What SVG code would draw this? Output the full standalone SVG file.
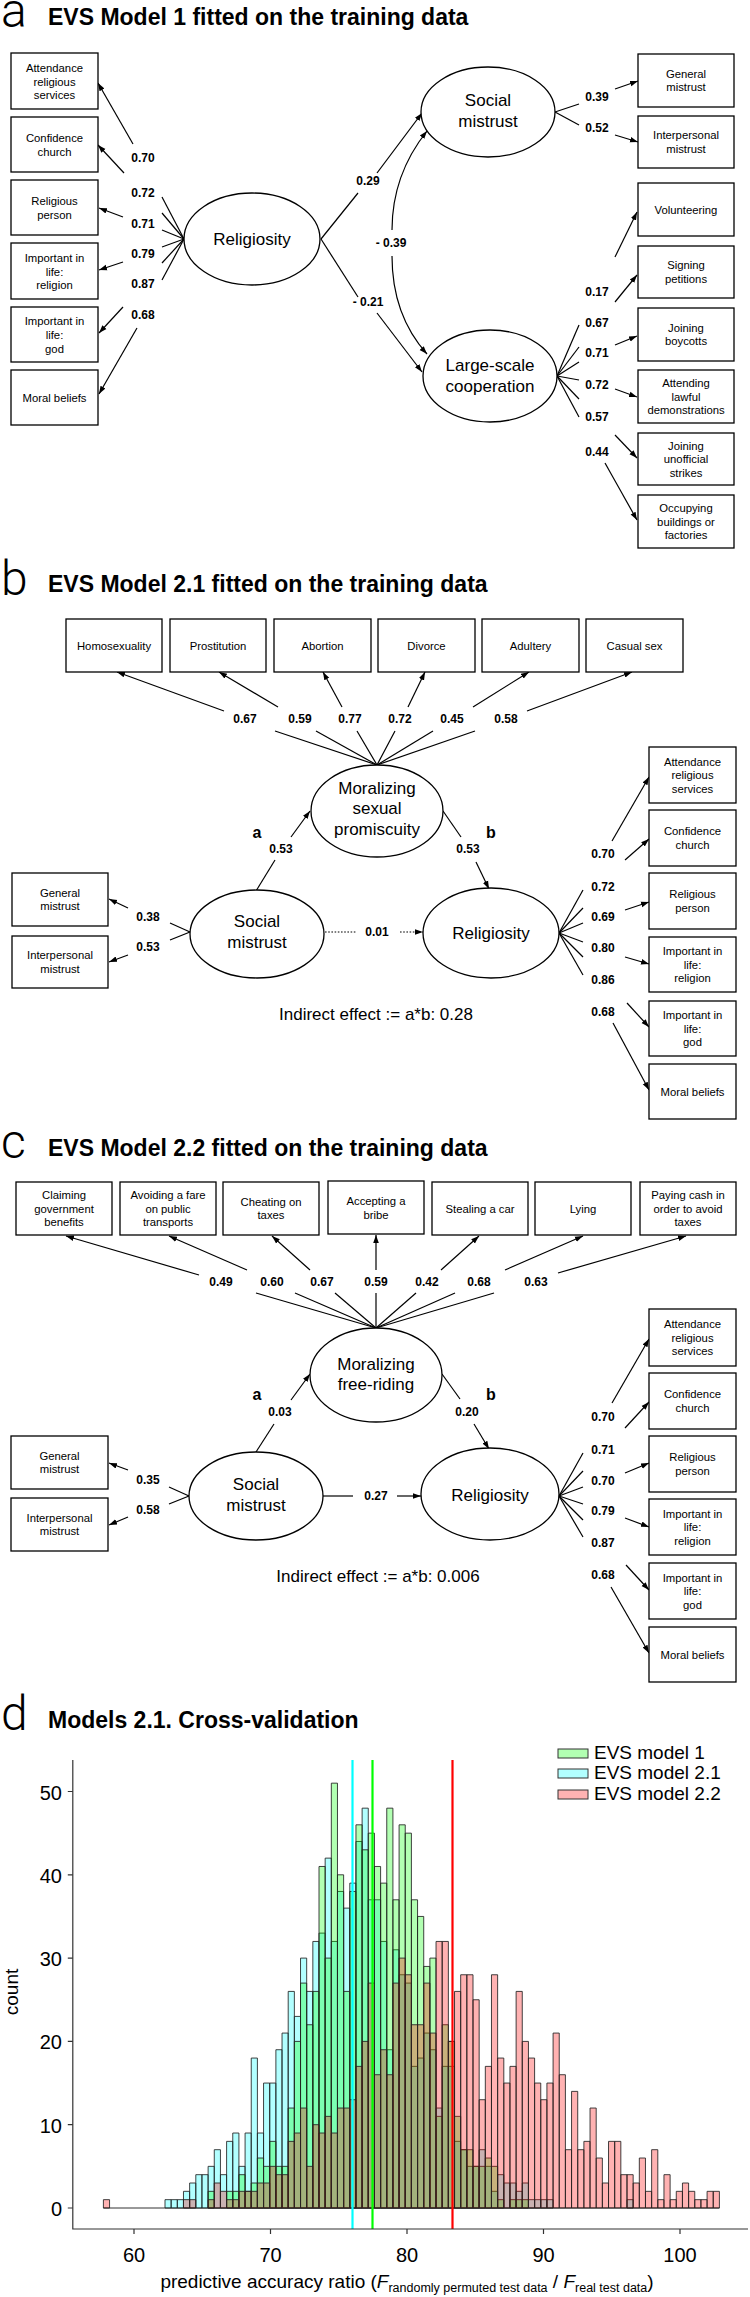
<svg xmlns="http://www.w3.org/2000/svg" width="750" height="2297" viewBox="0 0 750 2297">
<style>
text{font-family:"Liberation Sans",Arial,Helvetica,sans-serif;fill:#000}
.bx rect{fill:#fff;stroke:#000;stroke-width:1.3}
.bt{font-size:11.3px;text-anchor:middle;dominant-baseline:central}
.lv ellipse{fill:#fff;stroke:#000;stroke-width:1.3}
.lt{font-size:17px;text-anchor:middle;dominant-baseline:central}
.el{font-size:12px;font-weight:bold;text-anchor:middle;dominant-baseline:central}
.ab{font-size:16px;font-weight:bold;text-anchor:middle;dominant-baseline:central}
.ttl{font-size:23px;font-weight:bold}
.pl{font-family:Roboto,"Liberation Sans",Arial,sans-serif;font-size:48px;font-weight:300}
.conn line,.conn path{stroke:#000;stroke-width:1.2;fill:none}
.a{marker-end:url(#ah)}
.s{marker-start:url(#ah)}
.dt{stroke-dasharray:1.6 1.6}
.ind{font-size:17px;text-anchor:middle;dominant-baseline:central}
#hist rect{vector-effect:non-scaling-stroke;stroke:#222;stroke-opacity:.85;stroke-width:1}
.hg{fill:#00ff00;fill-opacity:.3}
.hc{fill:#00ffff;fill-opacity:.3}
.hp{fill:#ff0000;fill-opacity:.3}
.ax{stroke:#333;stroke-width:1.2;fill:none}
.tk{font-size:20px}
.lg{font-size:19px}
</style>
<defs>
<marker id="ah" viewBox="0 0 10 10" refX="10" refY="5" markerWidth="8" markerHeight="8" markerUnits="userSpaceOnUse" orient="auto-start-reverse"><path d="M0,1.5 L10,5 L0,8.5 z" fill="#000"/></marker>
</defs>
<rect width="750" height="2297" fill="#fff"/>

<!-- ================= PANEL A ================= -->
<text class="pl" x="1" y="27">a</text>
<text class="ttl" x="48" y="25">EVS Model 1 fitted on the training data</text>

<g class="conn" id="a-connectors">
<line x1="184" y1="239" x2="162" y2="197"/><line x1="184" y1="239" x2="162" y2="213"/><line x1="184" y1="239" x2="162" y2="230"/><line x1="184" y1="239" x2="162" y2="247"/><line x1="184" y1="239" x2="162" y2="263"/><line x1="184" y1="239" x2="162" y2="280"/>
<line class="a" x1="133" y1="144" x2="98" y2="83"/>
<line class="a" x1="124" y1="173" x2="98" y2="145"/>
<line class="a" x1="123" y1="217" x2="99" y2="208"/>
<line class="a" x1="123" y1="262" x2="99" y2="270"/>
<line class="a" x1="123" y1="307" x2="99" y2="333"/>
<line class="a" x1="137" y1="328" x2="99" y2="394"/>
<line x1="321" y1="239" x2="358" y2="193"/><line class="a" x1="377" y1="173" x2="422" y2="113"/>
<line x1="321" y1="239" x2="358" y2="297"/><line class="a" x1="377" y1="313" x2="422" y2="372"/>
<path class="s" d="M427,131 Q392,175 392,230"/><path class="a" d="M392,256 Q392,315 427,354"/>
<line x1="555" y1="112" x2="579" y2="104"/><line class="a" x1="615" y1="89" x2="638" y2="81"/>
<line x1="555" y1="112" x2="579" y2="125"/><line class="a" x1="615" y1="135" x2="638" y2="142"/>
<line x1="557" y1="376" x2="579" y2="325"/><line x1="557" y1="376" x2="579" y2="347"/><line x1="557" y1="376" x2="579" y2="362"/><line x1="557" y1="376" x2="579" y2="380"/><line x1="557" y1="376" x2="579" y2="399"/><line x1="557" y1="376" x2="579" y2="417"/>
<line class="a" x1="615" y1="257" x2="637" y2="212"/>
<line class="a" x1="615" y1="302" x2="637" y2="275"/>
<line class="a" x1="615" y1="345" x2="637" y2="336"/>
<line class="a" x1="615" y1="389" x2="637" y2="397"/>
<line class="a" x1="615" y1="435" x2="637" y2="458"/>
<line class="a" x1="605" y1="463" x2="637" y2="520"/>
</g>
<g id="a-edge-labels">
<text class="el" x="143" y="158">0.70</text><text class="el" x="143" y="193">0.72</text><text class="el" x="143" y="224">0.71</text><text class="el" x="143" y="254">0.79</text><text class="el" x="143" y="284">0.87</text><text class="el" x="143" y="315">0.68</text>
<text class="el" x="368" y="181">0.29</text><text class="el" x="368" y="302">- 0.21</text><text class="el" x="391" y="243">- 0.39</text>
<text class="el" x="597" y="97">0.39</text><text class="el" x="597" y="128">0.52</text>
<text class="el" x="597" y="292">0.17</text><text class="el" x="597" y="323">0.67</text><text class="el" x="597" y="353">0.71</text><text class="el" x="597" y="385">0.72</text><text class="el" x="597" y="417">0.57</text><text class="el" x="597" y="452">0.44</text>
</g>
<g id="a-religiosity" class="lv"><ellipse cx="252" cy="239" rx="68" ry="46"/><text class="lt" x="252" y="239">Religiosity</text></g>
<g id="a-social-mistrust" class="lv"><ellipse cx="488" cy="112" rx="67" ry="45"/><text class="lt" x="488" y="100.5">Social</text><text class="lt" x="488" y="121.5">mistrust</text></g>
<g id="a-large-scale-cooperation" class="lv"><ellipse cx="490" cy="376" rx="67" ry="46"/><text class="lt" x="490" y="365.5">Large-scale</text><text class="lt" x="490" y="386.5">cooperation</text></g>
<g id="a-attendance" class="bx"><rect x="11" y="53" width="87" height="56"/><text class="bt" x="54.5" y="67.9">Attendance</text><text class="bt" x="54.5" y="81.5">religious</text><text class="bt" x="54.5" y="95.1">services</text></g>
<g id="a-confidence" class="bx"><rect x="11" y="117" width="87" height="55"/><text class="bt" x="54.5" y="138.2">Confidence</text><text class="bt" x="54.5" y="151.8">church</text></g>
<g id="a-religious-person" class="bx"><rect x="11" y="180" width="87" height="55"/><text class="bt" x="54.5" y="201.2">Religious</text><text class="bt" x="54.5" y="214.8">person</text></g>
<g id="a-imp-religion" class="bx"><rect x="11" y="243" width="87" height="56"/><text class="bt" x="54.5" y="257.9">Important in</text><text class="bt" x="54.5" y="271.5">life:</text><text class="bt" x="54.5" y="285.1">religion</text></g>
<g id="a-imp-god" class="bx"><rect x="11" y="307" width="87" height="55"/><text class="bt" x="54.5" y="321.4">Important in</text><text class="bt" x="54.5" y="335">life:</text><text class="bt" x="54.5" y="348.6">god</text></g>
<g id="a-moral" class="bx"><rect x="11" y="370" width="87" height="55"/><text class="bt" x="54.5" y="398">Moral beliefs</text></g>
<g id="a-general-mistrust" class="bx"><rect x="638" y="54" width="96" height="53"/><text class="bt" x="686" y="73.7">General</text><text class="bt" x="686" y="87.3">mistrust</text></g>
<g id="a-interpersonal-mistrust" class="bx"><rect x="638" y="116" width="96" height="52"/><text class="bt" x="686" y="135.2">Interpersonal</text><text class="bt" x="686" y="148.8">mistrust</text></g>
<g id="a-volunteering" class="bx"><rect x="638" y="183" width="96" height="53"/><text class="bt" x="686" y="209.5">Volunteering</text></g>
<g id="a-petitions" class="bx"><rect x="638" y="246" width="96" height="52"/><text class="bt" x="686" y="265.2">Signing</text><text class="bt" x="686" y="278.8">petitions</text></g>
<g id="a-boycotts" class="bx"><rect x="638" y="308" width="96" height="53"/><text class="bt" x="686" y="327.7">Joining</text><text class="bt" x="686" y="341.3">boycotts</text></g>
<g id="a-demonstrations" class="bx"><rect x="638" y="370" width="96" height="53"/><text class="bt" x="686" y="383">Attending</text><text class="bt" x="686" y="396.6">lawful</text><text class="bt" x="686" y="410.2">demonstrations</text></g>
<g id="a-strikes" class="bx"><rect x="638" y="433" width="96" height="52"/><text class="bt" x="686" y="445.5">Joining</text><text class="bt" x="686" y="459.1">unofficial</text><text class="bt" x="686" y="472.7">strikes</text></g>
<g id="a-occupying" class="bx"><rect x="638" y="495" width="96" height="53"/><text class="bt" x="686" y="508">Occupying</text><text class="bt" x="686" y="521.6">buildings or</text><text class="bt" x="686" y="535.2">factories</text></g>

<!-- ================= PANEL B ================= -->
<text class="pl" x="1" y="595">b</text>
<text class="ttl" x="48" y="592">EVS Model 2.1 fitted on the training data</text>
<g class="conn" id="b-connectors">
<line x1="377" y1="765" x2="275" y2="731"/><line x1="377" y1="765" x2="316" y2="731"/><line x1="377" y1="765" x2="357" y2="731"/><line x1="377" y1="765" x2="395" y2="731"/><line x1="377" y1="765" x2="433" y2="731"/><line x1="377" y1="765" x2="475" y2="731"/>
<line class="a" x1="224" y1="711" x2="117" y2="672"/>
<line class="a" x1="278" y1="707" x2="219" y2="672"/>
<line class="a" x1="342" y1="707" x2="323" y2="672"/>
<line class="a" x1="408" y1="707" x2="425" y2="672"/>
<line class="a" x1="473" y1="707" x2="529" y2="672"/>
<line class="a" x1="527" y1="711" x2="632" y2="672"/>
<line x1="256" y1="891" x2="275" y2="860"/><line class="a" x1="291" y1="837" x2="310" y2="811"/>
<line x1="443" y1="811" x2="461" y2="837"/><line class="a" x1="476" y1="862" x2="489" y2="889"/>
<line class="dt" x1="325" y1="932" x2="357" y2="932"/><line class="a dt" x1="400" y1="932" x2="423" y2="932"/>
<line x1="190" y1="932" x2="170" y2="923"/><line x1="190" y1="932" x2="170" y2="940"/>
<line class="a" x1="128" y1="908" x2="109" y2="899"/>
<line class="a" x1="128" y1="955" x2="109" y2="962"/>
<line x1="559" y1="933" x2="583" y2="890"/><line x1="559" y1="933" x2="583" y2="908"/><line x1="559" y1="933" x2="583" y2="923"/><line x1="559" y1="933" x2="583" y2="942"/><line x1="559" y1="933" x2="583" y2="957"/><line x1="559" y1="933" x2="583" y2="975"/>
<line class="a" x1="612" y1="841" x2="649" y2="777"/>
<line class="a" x1="625" y1="860" x2="649" y2="839"/>
<line class="a" x1="625" y1="910" x2="649" y2="902"/>
<line class="a" x1="625" y1="957" x2="649" y2="964"/>
<line class="a" x1="627" y1="1003" x2="649" y2="1027"/>
<line class="a" x1="613" y1="1023" x2="649" y2="1090"/>
</g>
<g id="b-edge-labels">
<text class="el" x="245" y="719">0.67</text><text class="el" x="300" y="719">0.59</text><text class="el" x="350" y="719">0.77</text><text class="el" x="400" y="719">0.72</text><text class="el" x="452" y="719">0.45</text><text class="el" x="506" y="719">0.58</text>
<text class="ab" x="257" y="832">a</text><text class="el" x="281" y="849">0.53</text>
<text class="ab" x="491" y="832">b</text><text class="el" x="468" y="849">0.53</text>
<text class="el" x="377" y="932">0.01</text>
<text class="el" x="148" y="917">0.38</text><text class="el" x="148" y="947">0.53</text>
<text class="el" x="603" y="854">0.70</text><text class="el" x="603" y="887">0.72</text><text class="el" x="603" y="917">0.69</text><text class="el" x="603" y="948">0.80</text><text class="el" x="603" y="980">0.86</text><text class="el" x="603" y="1012">0.68</text>
</g>
<g id="b-moralizing" class="lv"><ellipse cx="377" cy="811" rx="66" ry="46"/><text class="lt" x="377" y="788">Moralizing</text><text class="lt" x="377" y="808.5">sexual</text><text class="lt" x="377" y="829">promiscuity</text></g>
<g id="b-social-mistrust" class="lv"><ellipse cx="257" cy="934" rx="67" ry="44"/><text class="lt" x="257" y="921">Social</text><text class="lt" x="257" y="942">mistrust</text></g>
<g id="b-religiosity" class="lv"><ellipse cx="491" cy="933" rx="68" ry="45"/><text class="lt" x="491" y="933">Religiosity</text></g>
<g id="b-homosexuality" class="bx"><rect x="66" y="619" width="96" height="53"/><text class="bt" x="114" y="646">Homosexuality</text></g>
<g id="b-prostitution" class="bx"><rect x="170" y="619" width="96" height="53"/><text class="bt" x="218" y="646">Prostitution</text></g>
<g id="b-abortion" class="bx"><rect x="274" y="619" width="97" height="53"/><text class="bt" x="322.5" y="646">Abortion</text></g>
<g id="b-divorce" class="bx"><rect x="378" y="619" width="97" height="53"/><text class="bt" x="426.5" y="646">Divorce</text></g>
<g id="b-adultery" class="bx"><rect x="482" y="619" width="97" height="53"/><text class="bt" x="530.5" y="646">Adultery</text></g>
<g id="b-casual-sex" class="bx"><rect x="586" y="619" width="97" height="53"/><text class="bt" x="634.5" y="646">Casual sex</text></g>
<g id="b-general-mistrust" class="bx"><rect x="12" y="873" width="96" height="53"/><text class="bt" x="60" y="892.7">General</text><text class="bt" x="60" y="906.3">mistrust</text></g>
<g id="b-interpersonal-mistrust" class="bx"><rect x="12" y="936" width="96" height="52"/><text class="bt" x="60" y="955.2">Interpersonal</text><text class="bt" x="60" y="968.8">mistrust</text></g>
<g id="b-attendance" class="bx"><rect x="649" y="747" width="87" height="56"/><text class="bt" x="692.5" y="761.5">Attendance</text><text class="bt" x="692.5" y="775.1">religious</text><text class="bt" x="692.5" y="788.7">services</text></g>
<g id="b-confidence" class="bx"><rect x="649" y="810" width="87" height="56"/><text class="bt" x="692.5" y="831.2">Confidence</text><text class="bt" x="692.5" y="844.8">church</text></g>
<g id="b-religious-person" class="bx"><rect x="649" y="873" width="87" height="56"/><text class="bt" x="692.5" y="894.2">Religious</text><text class="bt" x="692.5" y="907.8">person</text></g>
<g id="b-imp-religion" class="bx"><rect x="649" y="937" width="87" height="55"/><text class="bt" x="692.5" y="951">Important in</text><text class="bt" x="692.5" y="964.6">life:</text><text class="bt" x="692.5" y="978.2">religion</text></g>
<g id="b-imp-god" class="bx"><rect x="649" y="1001" width="87" height="55"/><text class="bt" x="692.5" y="1015">Important in</text><text class="bt" x="692.5" y="1028.6">life:</text><text class="bt" x="692.5" y="1042.2">god</text></g>
<g id="b-moral" class="bx"><rect x="649" y="1064" width="87" height="55"/><text class="bt" x="692.5" y="1091.5">Moral beliefs</text></g>
<text class="ind" x="376" y="1014">Indirect effect := a*b: 0.28</text>

<!-- ================= PANEL C ================= -->
<text class="pl" x="1" y="1158">c</text>
<text class="ttl" x="48" y="1156">EVS Model 2.2 fitted on the training data</text>
<g class="conn" id="c-connectors">
<line x1="376" y1="1328" x2="256" y2="1293"/><line x1="376" y1="1328" x2="295" y2="1293"/><line x1="376" y1="1328" x2="335" y2="1293"/><line x1="376" y1="1328" x2="376" y2="1293"/><line x1="376" y1="1328" x2="416" y2="1293"/><line x1="376" y1="1328" x2="455" y2="1293"/><line x1="376" y1="1328" x2="494" y2="1293"/>
<line class="a" x1="199" y1="1275" x2="66" y2="1236"/>
<line class="a" x1="247" y1="1270" x2="169" y2="1236"/>
<line class="a" x1="310" y1="1270" x2="272" y2="1236"/>
<line class="a" x1="376" y1="1270" x2="376" y2="1235"/>
<line class="a" x1="441" y1="1270" x2="479" y2="1236"/>
<line class="a" x1="505" y1="1270" x2="583" y2="1236"/>
<line class="a" x1="558" y1="1273" x2="686" y2="1236"/>
<line x1="256" y1="1452" x2="274" y2="1424"/><line class="a" x1="291" y1="1400" x2="310" y2="1374"/>
<line x1="442" y1="1374" x2="460" y2="1399"/><line class="a" x1="474" y1="1424" x2="489" y2="1449"/>
<line x1="323" y1="1496" x2="353" y2="1496"/><line class="a" x1="397" y1="1496" x2="421" y2="1496"/>
<line x1="189" y1="1496" x2="169" y2="1487"/><line x1="189" y1="1496" x2="169" y2="1504"/>
<line class="a" x1="128" y1="1470" x2="109" y2="1463"/>
<line class="a" x1="128" y1="1517" x2="109" y2="1525"/>
<line x1="559" y1="1496" x2="583" y2="1453"/><line x1="559" y1="1496" x2="583" y2="1471"/><line x1="559" y1="1496" x2="583" y2="1487"/><line x1="559" y1="1496" x2="583" y2="1504"/><line x1="559" y1="1496" x2="583" y2="1520"/><line x1="559" y1="1496" x2="583" y2="1537"/>
<line class="a" x1="612" y1="1403" x2="649" y2="1339"/>
<line class="a" x1="625" y1="1428" x2="649" y2="1402"/>
<line class="a" x1="625" y1="1473" x2="649" y2="1463"/>
<line class="a" x1="625" y1="1518" x2="649" y2="1527"/>
<line class="a" x1="626" y1="1565" x2="649" y2="1590"/>
<line class="a" x1="611" y1="1587" x2="649" y2="1653"/>
</g>
<g id="c-edge-labels">
<text class="el" x="221" y="1282">0.49</text><text class="el" x="272" y="1282">0.60</text><text class="el" x="322" y="1282">0.67</text><text class="el" x="376" y="1282">0.59</text><text class="el" x="427" y="1282">0.42</text><text class="el" x="479" y="1282">0.68</text><text class="el" x="536" y="1282">0.63</text>
<text class="ab" x="257" y="1394">a</text><text class="el" x="280" y="1412">0.03</text>
<text class="ab" x="491" y="1394">b</text><text class="el" x="467" y="1412">0.20</text>
<text class="el" x="376" y="1496">0.27</text>
<text class="el" x="148" y="1480">0.35</text><text class="el" x="148" y="1510">0.58</text>
<text class="el" x="603" y="1417">0.70</text><text class="el" x="603" y="1450">0.71</text><text class="el" x="603" y="1481">0.70</text><text class="el" x="603" y="1511">0.79</text><text class="el" x="603" y="1543">0.87</text><text class="el" x="603" y="1575">0.68</text>
</g>
<g id="c-moralizing" class="lv"><ellipse cx="376" cy="1375" rx="66" ry="47"/><text class="lt" x="376" y="1364">Moralizing</text><text class="lt" x="376" y="1384.5">free-riding</text></g>
<g id="c-social-mistrust" class="lv"><ellipse cx="256" cy="1496" rx="67" ry="44"/><text class="lt" x="256" y="1484">Social</text><text class="lt" x="256" y="1505">mistrust</text></g>
<g id="c-religiosity" class="lv"><ellipse cx="490" cy="1494" rx="69" ry="46"/><text class="lt" x="490" y="1495">Religiosity</text></g>
<g id="c-benefits" class="bx"><rect x="16" y="1182" width="96" height="53"/><text class="bt" x="64" y="1195">Claiming</text><text class="bt" x="64" y="1208.6">government</text><text class="bt" x="64" y="1222.2">benefits</text></g>
<g id="c-fare" class="bx"><rect x="120" y="1182" width="96" height="53"/><text class="bt" x="168" y="1195">Avoiding a fare</text><text class="bt" x="168" y="1208.6">on public</text><text class="bt" x="168" y="1222.2">transports</text></g>
<g id="c-taxes" class="bx"><rect x="223" y="1182" width="96" height="53"/><text class="bt" x="271" y="1201.7">Cheating on</text><text class="bt" x="271" y="1215.3">taxes</text></g>
<g id="c-bribe" class="bx"><rect x="328" y="1181" width="96" height="53"/><text class="bt" x="376" y="1201.2">Accepting a</text><text class="bt" x="376" y="1214.8">bribe</text></g>
<g id="c-car" class="bx"><rect x="432" y="1182" width="96" height="53"/><text class="bt" x="480" y="1208.5">Stealing a car</text></g>
<g id="c-lying" class="bx"><rect x="535" y="1182" width="96" height="53"/><text class="bt" x="583" y="1208.5">Lying</text></g>
<g id="c-cash" class="bx"><rect x="640" y="1182" width="96" height="53"/><text class="bt" x="688" y="1195">Paying cash in</text><text class="bt" x="688" y="1208.6">order to avoid</text><text class="bt" x="688" y="1222.2">taxes</text></g>
<g id="c-general-mistrust" class="bx"><rect x="11" y="1436" width="97" height="53"/><text class="bt" x="59.5" y="1455.7">General</text><text class="bt" x="59.5" y="1469.3">mistrust</text></g>
<g id="c-interpersonal-mistrust" class="bx"><rect x="11" y="1498" width="97" height="53"/><text class="bt" x="59.5" y="1517.7">Interpersonal</text><text class="bt" x="59.5" y="1531.3">mistrust</text></g>
<g id="c-attendance" class="bx"><rect x="649" y="1309" width="87" height="57"/><text class="bt" x="692.5" y="1324">Attendance</text><text class="bt" x="692.5" y="1337.6">religious</text><text class="bt" x="692.5" y="1351.2">services</text></g>
<g id="c-confidence" class="bx"><rect x="649" y="1373" width="87" height="56"/><text class="bt" x="692.5" y="1394.2">Confidence</text><text class="bt" x="692.5" y="1407.8">church</text></g>
<g id="c-religious-person" class="bx"><rect x="649" y="1436" width="87" height="56"/><text class="bt" x="692.5" y="1457.2">Religious</text><text class="bt" x="692.5" y="1470.8">person</text></g>
<g id="c-imp-religion" class="bx"><rect x="649" y="1499" width="87" height="56"/><text class="bt" x="692.5" y="1513.5">Important in</text><text class="bt" x="692.5" y="1527.1">life:</text><text class="bt" x="692.5" y="1540.7">religion</text></g>
<g id="c-imp-god" class="bx"><rect x="649" y="1563" width="87" height="56"/><text class="bt" x="692.5" y="1577.5">Important in</text><text class="bt" x="692.5" y="1591.1">life:</text><text class="bt" x="692.5" y="1604.7">god</text></g>
<g id="c-moral" class="bx"><rect x="649" y="1627" width="87" height="55"/><text class="bt" x="692.5" y="1654.5">Moral beliefs</text></g>
<text class="ind" x="378" y="1576">Indirect effect := a*b: 0.006</text>

<!-- ================= PANEL D ================= -->
<text class="pl" x="1" y="1730">d</text>
<text class="ttl" x="48" y="1728">Models 2.1. Cross-validation</text>
<line x1="103.4" y1="2208" x2="719.4" y2="2208" stroke="#333" stroke-width="1"/>
<g id="hist" transform="matrix(1,0,0,-8.33,0,2208)">
<g class="hc">
<rect x="165" width="6.16" height="1"/><rect x="171.16" width="6.16" height="1"/><rect x="177.32" width="6.16" height="1"/><rect x="183.48" width="6.16" height="2"/><rect x="189.64" width="6.16" height="3"/><rect x="195.8" width="6.16" height="4"/><rect x="201.96" width="6.16" height="4"/><rect x="208.12" width="6.16" height="5"/><rect x="214.28" width="6.16" height="7"/><rect x="220.44" width="6.16" height="4"/><rect x="226.6" width="6.16" height="8"/><rect x="232.76" width="6.16" height="9"/><rect x="238.92" width="6.16" height="5"/><rect x="245.08" width="6.16" height="9"/><rect x="251.24" width="6.16" height="18"/><rect x="257.4" width="6.16" height="9"/><rect x="263.56" width="6.16" height="15"/><rect x="269.72" width="6.16" height="15"/><rect x="275.88" width="6.16" height="19"/><rect x="282.04" width="6.16" height="21"/><rect x="288.2" width="6.16" height="26"/><rect x="294.36" width="6.16" height="23"/><rect x="300.52" width="6.16" height="30"/><rect x="306.68" width="6.16" height="26"/><rect x="312.84" width="6.16" height="32"/><rect x="319" width="6.16" height="33"/><rect x="325.16" width="6.16" height="42"/><rect x="331.32" width="6.16" height="32"/><rect x="337.48" width="6.16" height="38"/><rect x="343.64" width="6.16" height="36"/><rect x="349.8" width="6.16" height="39"/><rect x="355.96" width="6.16" height="44"/><rect x="362.12" width="6.16" height="48"/><rect x="368.28" width="6.16" height="37"/><rect x="374.44" width="6.16" height="37"/><rect x="380.6" width="6.16" height="32"/><rect x="386.76" width="6.16" height="19"/><rect x="392.92" width="6.16" height="31"/><rect x="399.08" width="6.16" height="28"/><rect x="405.24" width="6.16" height="27"/><rect x="411.4" width="6.16" height="17"/><rect x="417.56" width="6.16" height="18"/><rect x="423.72" width="6.16" height="21"/><rect x="429.88" width="6.16" height="19"/><rect x="436.04" width="6.16" height="12"/><rect x="442.2" width="6.16" height="17"/><rect x="448.36" width="6.16" height="17"/><rect x="454.52" width="6.16" height="8"/><rect x="460.68" width="6.16" height="7"/><rect x="466.84" width="6.16" height="5"/><rect x="473" width="6.16" height="5"/><rect x="479.16" width="6.16" height="7"/><rect x="485.32" width="6.16" height="5"/><rect x="491.48" width="6.16" height="2"/><rect x="497.64" width="6.16" height="4"/><rect x="503.8" width="6.16" height="3"/><rect x="509.96" width="6.16" height="3"/><rect x="516.12" width="6.16" height="2"/><rect x="522.28" width="6.16" height="3"/><rect x="528.44" width="6.16" height="1"/><rect x="534.6" width="6.16" height="1"/><rect x="540.76" width="6.16" height="1"/><rect x="546.92" width="6.16" height="1"/><rect x="627" width="6.16" height="1"/>
</g>
<g class="hg">
<rect x="208.12" width="6.16" height="2"/><rect x="226.6" width="6.16" height="2"/><rect x="232.76" width="6.16" height="2"/><rect x="238.92" width="6.16" height="4"/><rect x="245.08" width="6.16" height="2"/><rect x="251.24" width="6.16" height="3"/><rect x="257.4" width="6.16" height="6"/><rect x="263.56" width="6.16" height="5"/><rect x="269.72" width="6.16" height="8"/><rect x="275.88" width="6.16" height="5"/><rect x="282.04" width="6.16" height="5"/><rect x="288.2" width="6.16" height="12"/><rect x="294.36" width="6.16" height="20"/><rect x="300.52" width="6.16" height="27"/><rect x="306.68" width="6.16" height="22"/><rect x="312.84" width="6.16" height="26"/><rect x="319" width="6.16" height="41"/><rect x="325.16" width="6.16" height="30"/><rect x="331.32" width="6.16" height="51"/><rect x="337.48" width="6.16" height="40"/><rect x="343.64" width="6.16" height="26"/><rect x="349.8" width="6.16" height="38"/><rect x="355.96" width="6.16" height="46"/><rect x="362.12" width="6.16" height="43"/><rect x="368.28" width="6.16" height="45"/><rect x="374.44" width="6.16" height="41"/><rect x="380.6" width="6.16" height="39"/><rect x="386.76" width="6.16" height="48"/><rect x="392.92" width="6.16" height="37"/><rect x="399.08" width="6.16" height="46"/><rect x="405.24" width="6.16" height="45"/><rect x="411.4" width="6.16" height="37"/><rect x="417.56" width="6.16" height="35"/><rect x="423.72" width="6.16" height="29"/><rect x="429.88" width="6.16" height="30"/><rect x="436.04" width="6.16" height="11"/><rect x="442.2" width="6.16" height="22"/><rect x="448.36" width="6.16" height="20"/><rect x="454.52" width="6.16" height="11"/><rect x="460.68" width="6.16" height="7"/><rect x="466.84" width="6.16" height="7"/><rect x="473" width="6.16" height="5"/><rect x="479.16" width="6.16" height="5"/><rect x="485.32" width="6.16" height="6"/><rect x="491.48" width="6.16" height="5"/><rect x="497.64" width="6.16" height="1"/><rect x="509.96" width="6.16" height="1"/><rect x="516.12" width="6.16" height="1"/><rect x="522.28" width="6.16" height="1"/>
</g>
<g class="hp">
<rect x="103.4" width="6.16" height="1"/><rect x="183.48" width="6.16" height="1"/><rect x="189.64" width="6.16" height="1"/><rect x="208.12" width="6.16" height="1"/><rect x="214.28" width="6.16" height="3"/><rect x="220.44" width="6.16" height="2"/><rect x="226.6" width="6.16" height="1"/><rect x="232.76" width="6.16" height="1"/><rect x="238.92" width="6.16" height="2"/><rect x="245.08" width="6.16" height="2"/><rect x="251.24" width="6.16" height="2"/><rect x="257.4" width="6.16" height="3"/><rect x="263.56" width="6.16" height="3"/><rect x="269.72" width="6.16" height="5"/><rect x="275.88" width="6.16" height="4"/><rect x="282.04" width="6.16" height="4"/><rect x="288.2" width="6.16" height="8"/><rect x="294.36" width="6.16" height="9"/><rect x="300.52" width="6.16" height="12"/><rect x="306.68" width="6.16" height="5"/><rect x="312.84" width="6.16" height="10"/><rect x="319" width="6.16" height="9"/><rect x="325.16" width="6.16" height="11"/><rect x="331.32" width="6.16" height="9"/><rect x="337.48" width="6.16" height="12"/><rect x="343.64" width="6.16" height="12"/><rect x="349.8" width="6.16" height="13"/><rect x="355.96" width="6.16" height="17"/><rect x="362.12" width="6.16" height="20"/><rect x="368.28" width="6.16" height="27"/><rect x="374.44" width="6.16" height="16"/><rect x="380.6" width="6.16" height="19"/><rect x="386.76" width="6.16" height="16"/><rect x="392.92" width="6.16" height="27"/><rect x="399.08" width="6.16" height="30"/><rect x="405.24" width="6.16" height="28"/><rect x="411.4" width="6.16" height="22"/><rect x="417.56" width="6.16" height="22"/><rect x="423.72" width="6.16" height="27"/><rect x="429.88" width="6.16" height="21"/><rect x="436.04" width="6.16" height="32"/><rect x="442.2" width="6.16" height="32"/><rect x="448.36" width="6.16" height="20"/><rect x="454.52" width="6.16" height="26"/><rect x="460.68" width="6.16" height="28"/><rect x="466.84" width="6.16" height="28"/><rect x="473" width="6.16" height="25"/><rect x="479.16" width="6.16" height="13"/><rect x="485.32" width="6.16" height="17"/><rect x="491.48" width="6.16" height="28"/><rect x="497.64" width="6.16" height="18"/><rect x="503.8" width="6.16" height="15"/><rect x="509.96" width="6.16" height="17"/><rect x="516.12" width="6.16" height="26"/><rect x="522.28" width="6.16" height="20"/><rect x="528.44" width="6.16" height="18"/><rect x="534.6" width="6.16" height="15"/><rect x="540.76" width="6.16" height="13"/><rect x="546.92" width="6.16" height="15"/><rect x="553.08" width="6.16" height="21"/><rect x="559.24" width="6.16" height="16"/><rect x="565.4" width="6.16" height="7"/><rect x="571.56" width="6.16" height="14"/><rect x="577.72" width="6.16" height="7"/><rect x="583.88" width="6.16" height="8"/><rect x="590.04" width="6.16" height="12"/><rect x="596.2" width="6.16" height="6"/><rect x="602.36" width="6.16" height="3"/><rect x="608.52" width="6.16" height="8"/><rect x="614.68" width="6.16" height="8"/><rect x="620.84" width="6.16" height="4"/><rect x="627" width="6.16" height="4"/><rect x="633.16" width="6.16" height="3"/><rect x="639.32" width="6.16" height="6"/><rect x="645.48" width="6.16" height="2"/><rect x="651.64" width="6.16" height="7"/><rect x="657.8" width="6.16" height="1"/><rect x="663.96" width="6.16" height="4"/><rect x="670.12" width="6.16" height="1"/><rect x="676.28" width="6.16" height="2"/><rect x="682.44" width="6.16" height="3"/><rect x="688.6" width="6.16" height="2"/><rect x="694.76" width="6.16" height="1"/><rect x="700.92" width="6.16" height="1"/><rect x="707.08" width="6.16" height="2"/><rect x="713.24" width="6.16" height="2"/>
</g>
</g>
<g id="mean-lines">
<line x1="352.5" y1="1760" x2="352.5" y2="2229" stroke="#00ffff" stroke-width="2.2"/>
<line x1="372.5" y1="1760" x2="372.5" y2="2229" stroke="#00ff00" stroke-width="2.2"/>
<line x1="452.5" y1="1760" x2="452.5" y2="2229" stroke="#ff0000" stroke-width="2.2"/>
</g>
<g id="axes">
<path class="ax" d="M72.8,1760 V2229 H748"/>
<path class="ax" d="M134,2229v5 M270.5,2229v5 M407,2229v5 M543.5,2229v5 M680,2229v5 M72.8,2208h-5 M72.8,2124.7h-5 M72.8,2041.4h-5 M72.8,1958.1h-5 M72.8,1874.8h-5 M72.8,1791.5h-5"/>
<g class="tk" text-anchor="middle"><text x="134" y="2262">60</text><text x="270.5" y="2262">70</text><text x="407" y="2262">80</text><text x="543.5" y="2262">90</text><text x="680" y="2262">100</text></g>
<g class="tk" text-anchor="end" dominant-baseline="central"><text x="62" y="2209">0</text><text x="62" y="2125.7">10</text><text x="62" y="2042.4">20</text><text x="62" y="1959.1">30</text><text x="62" y="1875.8">40</text><text x="62" y="1792.5">50</text></g>
<text class="lg" transform="translate(18,1992) rotate(-90)" text-anchor="middle">count</text>
<text class="lg" x="407" y="2288" text-anchor="middle">predictive accuracy ratio (<tspan font-style="italic">F</tspan><tspan font-size="12.5" dy="4">randomly permuted test data</tspan><tspan dy="-4"> / </tspan><tspan font-style="italic">F</tspan><tspan font-size="12.5" dy="4">real test data</tspan><tspan dy="-4">)</tspan></text>
</g>
<g id="legend">
<rect x="558" y="1749" width="30" height="9" fill="#00ff00" fill-opacity=".3" stroke="#333"/>
<rect x="558" y="1769" width="30" height="9" fill="#00ffff" fill-opacity=".3" stroke="#333"/>
<rect x="558" y="1790" width="30" height="9" fill="#ff0000" fill-opacity=".3" stroke="#333"/>
<text class="lg" x="594" y="1759">EVS model 1</text>
<text class="lg" x="594" y="1779">EVS model 2.1</text>
<text class="lg" x="594" y="1800">EVS model 2.2</text>
</g>
</svg>
